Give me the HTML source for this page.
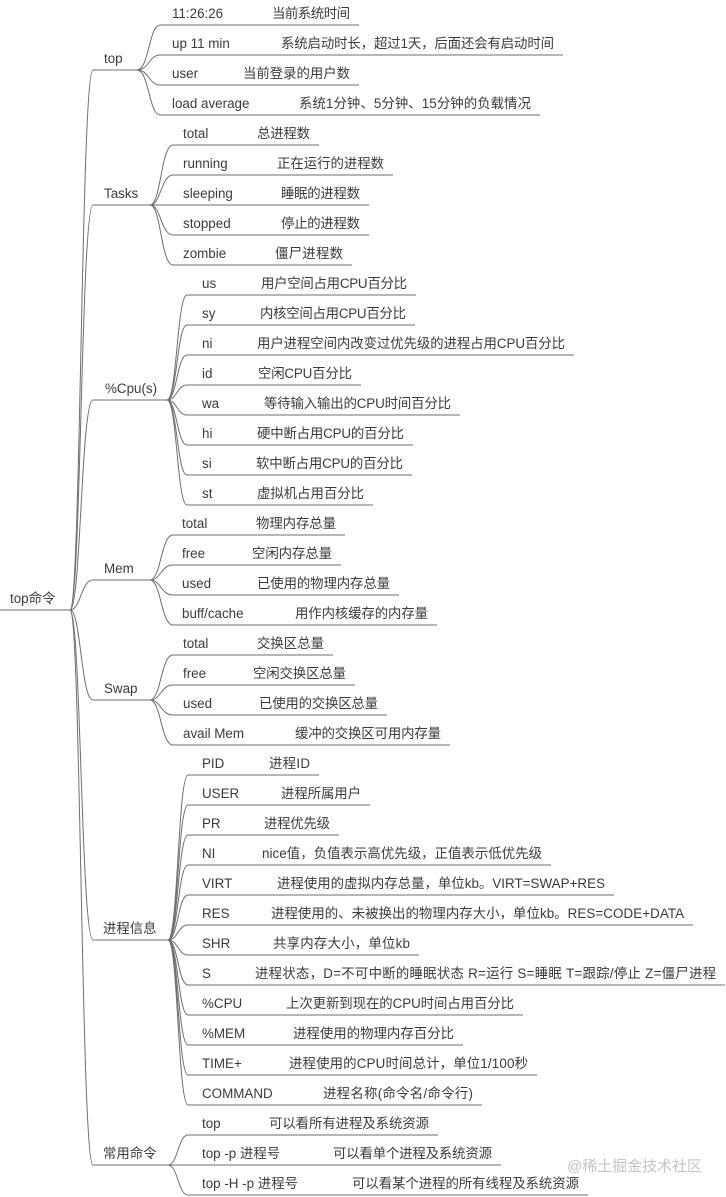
<!DOCTYPE html>
<html>
<head>
<meta charset="utf-8">
<style>
  html,body{margin:0;padding:0;background:#fff;}
  svg{display:block;}
  text{font-family:"Liberation Sans","Noto Sans CJK SC",sans-serif;font-size:13.4px;fill:#3b3b3b;}
  path{fill:none;stroke:#6e6e6e;stroke-width:1;}
  .wm{font-size:15px;fill:#c4c4c4;}
</style>
</head>
<body>
<svg width="726" height="1197" viewBox="0 0 726 1197" xmlns="http://www.w3.org/2000/svg">
<rect width="726" height="1197" fill="#fff"/>

<!-- root -->
<path d="M0 610 H70"/>
<text x="10" y="603">top命令</text>

<!-- root to categories -->
<path d="M70 610 C81 610 81 70 93 70 H137"/>
<path d="M70 610 C81 610 81 205 93 205 H150"/>
<path d="M70 610 C81 610 81 400 93 400 H167"/>
<path d="M70 610 C81 610 81 580 93 580 H150"/>
<path d="M70 610 C81 610 81 700 93 700 H150"/>
<path d="M70 610 C81 610 81 940 93 940 H168"/>
<path d="M70 610 C81 610 81 1165 93 1165 H168"/>

<text x="104" y="63">top</text>
<text x="104" y="198">Tasks</text>
<text x="105" y="393">%Cpu(s)</text>
<text x="104" y="573">Mem</text>
<text x="104" y="693">Swap</text>
<text x="103" y="933">进程信息</text>
<text x="103" y="1158">常用命令</text>

<!-- top children -->
<path d="M137 70 C149 70 149 25 160 25 H359"/>
<path d="M137 70 C149 70 149 55 160 55 H563"/>
<path d="M137 70 C149 70 149 85 160 85 H359"/>
<path d="M137 70 C149 70 149 115 160 115 H540"/>
<text x="172" y="18">11:26:26</text><text x="272" y="18" textLength="78" lengthAdjust="spacing">当前系统时间</text>
<text x="172" y="48">up 11 min</text><text x="281" y="48" textLength="273" lengthAdjust="spacing">系统启动时长，超过1天，后面还会有启动时间</text>
<text x="172" y="78">user</text><text x="243" y="78" textLength="107" lengthAdjust="spacing">当前登录的用户数</text>
<text x="172" y="108">load average</text><text x="299" y="108" textLength="232" lengthAdjust="spacing">系统1分钟、5分钟、15分钟的负载情况</text>

<!-- Tasks children -->
<path d="M150 205 C161 205 161 145 173 145 H319"/>
<path d="M150 205 C161 205 161 175 173 175 H393"/>
<path d="M150 205 H369"/>
<path d="M150 205 C161 205 161 235 173 235 H369"/>
<path d="M150 205 C161 205 161 265 173 265 H352"/>
<text x="183" y="138">total</text><text x="257" y="138" textLength="53" lengthAdjust="spacing">总进程数</text>
<text x="183" y="168">running</text><text x="277" y="168" textLength="107" lengthAdjust="spacing">正在运行的进程数</text>
<text x="183" y="198">sleeping</text><text x="281" y="198" textLength="79" lengthAdjust="spacing">睡眠的进程数</text>
<text x="183" y="228">stopped</text><text x="281" y="228" textLength="79" lengthAdjust="spacing">停止的进程数</text>
<text x="183" y="258">zombie</text><text x="275" y="258" textLength="68" lengthAdjust="spacing">僵尸进程数</text>

<!-- %Cpu children -->
<path d="M167 400 C177 400 177 295 187 295 H416"/>
<path d="M167 400 C177 400 177 325 187 325 H415"/>
<path d="M167 400 C177 400 177 355 187 355 H574"/>
<path d="M167 400 C177 400 177 385 187 385 H361"/>
<path d="M167 400 C177 400 177 415 187 415 H460"/>
<path d="M167 400 C177 400 177 445 187 445 H413"/>
<path d="M167 400 C177 400 177 475 187 475 H412"/>
<path d="M167 400 C177 400 177 505 187 505 H373"/>
<text x="202" y="288">us</text><text x="261" y="288" textLength="146" lengthAdjust="spacing">用户空间占用CPU百分比</text>
<text x="202" y="318">sy</text><text x="260" y="318" textLength="146" lengthAdjust="spacing">内核空间占用CPU百分比</text>
<text x="202" y="348">ni</text><text x="257" y="348" textLength="308" lengthAdjust="spacing">用户进程空间内改变过优先级的进程占用CPU百分比</text>
<text x="202" y="378">id</text><text x="258" y="378" textLength="94" lengthAdjust="spacing">空闲CPU百分比</text>
<text x="202" y="408">wa</text><text x="264" y="408" textLength="187" lengthAdjust="spacing">等待输入输出的CPU时间百分比</text>
<text x="202" y="438">hi</text><text x="257" y="438" textLength="147" lengthAdjust="spacing">硬中断占用CPU的百分比</text>
<text x="202" y="468">si</text><text x="256" y="468" textLength="147" lengthAdjust="spacing">软中断占用CPU的百分比</text>
<text x="202" y="498">st</text><text x="257" y="498" textLength="107" lengthAdjust="spacing">虚拟机占用百分比</text>

<!-- Mem children -->
<path d="M150 580 C161 580 161 535 173 535 H345"/>
<path d="M150 580 C161 580 161 565 173 565 H341"/>
<path d="M150 580 C161 580 161 595 173 595 H399"/>
<path d="M150 580 C161 580 161 625 173 625 H437"/>
<text x="182" y="528">total</text><text x="256" y="528" textLength="80" lengthAdjust="spacing">物理内存总量</text>
<text x="182" y="558">free</text><text x="252" y="558" textLength="80" lengthAdjust="spacing">空闲内存总量</text>
<text x="182" y="588">used</text><text x="257" y="588" textLength="133" lengthAdjust="spacing">已使用的物理内存总量</text>
<text x="182" y="618">buff/cache</text><text x="295" y="618" textLength="133" lengthAdjust="spacing">用作内核缓存的内存量</text>

<!-- Swap children -->
<path d="M150 700 C161 700 161 655 173 655 H333"/>
<path d="M150 700 C161 700 161 685 173 685 H355"/>
<path d="M150 700 C161 700 161 715 173 715 H387"/>
<path d="M150 700 C161 700 161 745 173 745 H450"/>
<text x="183" y="648">total</text><text x="257" y="648" textLength="67" lengthAdjust="spacing">交换区总量</text>
<text x="183" y="678">free</text><text x="253" y="678" textLength="93" lengthAdjust="spacing">空闲交换区总量</text>
<text x="183" y="708">used</text><text x="259" y="708" textLength="119" lengthAdjust="spacing">已使用的交换区总量</text>
<text x="183" y="738">avail Mem</text><text x="295" y="738" textLength="146" lengthAdjust="spacing">缓冲的交换区可用内存量</text>

<!-- 进程信息 children -->
<path d="M168 940 C178 940 178 775 188 775 H319"/>
<path d="M168 940 C178 940 178 805 188 805 H370"/>
<path d="M168 940 C178 940 178 835 188 835 H339"/>
<path d="M168 940 C178 940 178 865 188 865 H551"/>
<path d="M168 940 C178 940 178 895 188 895 H614"/>
<path d="M168 940 C178 940 178 925 188 925 H693"/>
<path d="M168 940 C178 940 178 955 188 955 H419"/>
<path d="M168 940 C178 940 178 985 188 985 H725"/>
<path d="M168 940 C178 940 178 1015 188 1015 H523"/>
<path d="M168 940 C178 940 178 1045 188 1045 H463"/>
<path d="M168 940 C178 940 178 1075 188 1075 H537"/>
<path d="M168 940 C178 940 178 1105 188 1105 H482"/>
<text x="202" y="768">PID</text><text x="269" y="768" textLength="41" lengthAdjust="spacing">进程ID</text>
<text x="202" y="798">USER</text><text x="281" y="798" textLength="80" lengthAdjust="spacing">进程所属用户</text>
<text x="202" y="828">PR</text><text x="264" y="828" textLength="66" lengthAdjust="spacing">进程优先级</text>
<text x="202" y="858">NI</text><text x="262" y="858" textLength="280" lengthAdjust="spacing">nice值，负值表示高优先级，正值表示低优先级</text>
<text x="202" y="888">VIRT</text><text x="277" y="888" textLength="328" lengthAdjust="spacing">进程使用的虚拟内存总量，单位kb。VIRT=SWAP+RES</text>
<text x="202" y="918">RES</text><text x="271" y="918" textLength="413" lengthAdjust="spacing">进程使用的、未被换出的物理内存大小，单位kb。RES=CODE+DATA</text>
<text x="202" y="948">SHR</text><text x="273" y="948" textLength="137" lengthAdjust="spacing">共享内存大小，单位kb</text>
<text x="202" y="978">S</text><text x="255" y="978" textLength="461" lengthAdjust="spacing">进程状态，D=不可中断的睡眠状态 R=运行 S=睡眠 T=跟踪/停止 Z=僵尸进程</text>
<text x="202" y="1008">%CPU</text><text x="286" y="1008" textLength="228" lengthAdjust="spacing">上次更新到现在的CPU时间占用百分比</text>
<text x="202" y="1038">%MEM</text><text x="293" y="1038" textLength="161" lengthAdjust="spacing">进程使用的物理内存百分比</text>
<text x="202" y="1068">TIME+</text><text x="289" y="1068" textLength="239" lengthAdjust="spacing">进程使用的CPU时间总计，单位1/100秒</text>
<text x="202" y="1098">COMMAND</text><text x="323" y="1098" textLength="150" lengthAdjust="spacing">进程名称(命令名/命令行)</text>

<!-- 常用命令 children -->
<path d="M168 1165 C178 1165 178 1135 188 1135 H438"/>
<path d="M168 1165 H501"/>
<path d="M168 1165 C178 1165 178 1195 188 1195 H588"/>
<text x="202" y="1128">top</text><text x="269" y="1128" textLength="160" lengthAdjust="spacing">可以看所有进程及系统资源</text>
<text x="202" y="1158">top -p 进程号</text><text x="333" y="1158" textLength="159" lengthAdjust="spacing">可以看单个进程及系统资源</text>
<text x="202" y="1188">top -H -p 进程号</text><text x="352" y="1188" textLength="227" lengthAdjust="spacing">可以看某个进程的所有线程及系统资源</text>

<!-- watermark -->
<text class="wm" x="567" y="1171" textLength="135" lengthAdjust="spacing">@稀土掘金技术社区</text>
</svg>
</body>
</html>
